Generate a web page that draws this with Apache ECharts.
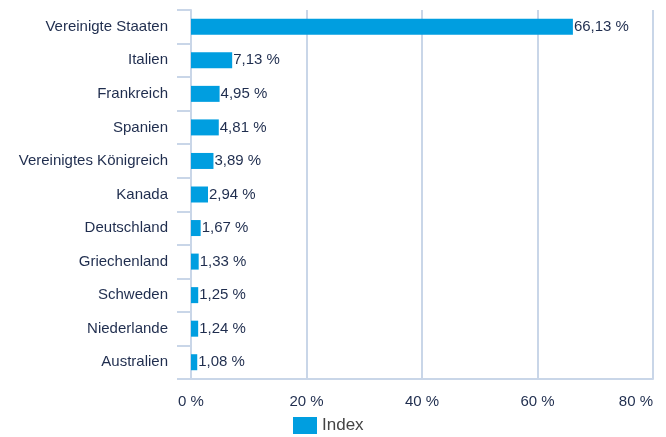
<!DOCTYPE html>
<html><head><meta charset="utf-8">
<script src="https://cdn.jsdelivr.net/npm/echarts@6/dist/echarts.min.js"></script>
<style>html,body{margin:0;padding:0;background:#fff}#c{width:666px;height:437px}</style>
</head><body><div id="c"></div>
<script>
const categories = ["Vereinigte Staaten","Italien","Frankreich","Spanien","Vereinigtes Königreich","Kanada","Deutschland","Griechenland","Schweden","Niederlande","Australien"];
const values = [66.13,7.13,4.95,4.81,3.89,2.94,1.67,1.33,1.25,1.24,1.08];
const seriesName = "Index";
const xTicks = [0,20,40,60,80];

const chart = echarts.init(document.getElementById('c'), null, {renderer:'canvas'});
const fmt = v => v.toFixed(2).replace('.', ',') + ' %';
const font = "'Liberation Sans', Arial, sans-serif";
chart.setOption({
  animation:false,
  textStyle:{fontFamily:font},
  grid:{left:191,right:13,top:10,bottom:58,containLabel:false},
  legend:{top:417,left:288,itemWidth:24,itemHeight:17,itemGap:8,padding:[0,5],
    textStyle:{color:'#444',fontSize:17,fontFamily:font},
    data:[{name:seriesName,icon:'rect'}]},
  xAxis:{type:'value',min:xTicks[0],max:xTicks[xTicks.length-1],interval:20,
    axisLine:{show:true,lineStyle:{color:'#c9d6e8',width:2}},
    axisTick:{show:false},
    splitLine:{show:true,lineStyle:{color:'#c9d6e8',width:2}},
    axisLabel:{color:'#1f2d4e',fontSize:15,margin:15,alignMaxLabel:'right',formatter:v=>v+' %'}},
  yAxis:{type:'category',data:categories,inverse:true,
    axisLine:{show:true,lineStyle:{color:'#c9d6e8',width:2}},
    axisTick:{show:true,length:14,lineStyle:{color:'#c9d6e8',width:2}},
    axisLabel:{color:'#1f2d4e',fontSize:15,margin:23}},
  series:[{name:seriesName,type:'bar',data:values,barWidth:16,
    itemStyle:{color:'#009ee0'},
    label:{show:true,position:'right',distance:1,color:'#1f2d4e',fontSize:15,formatter:p=>fmt(p.value)}}]
});
</script></body></html>
